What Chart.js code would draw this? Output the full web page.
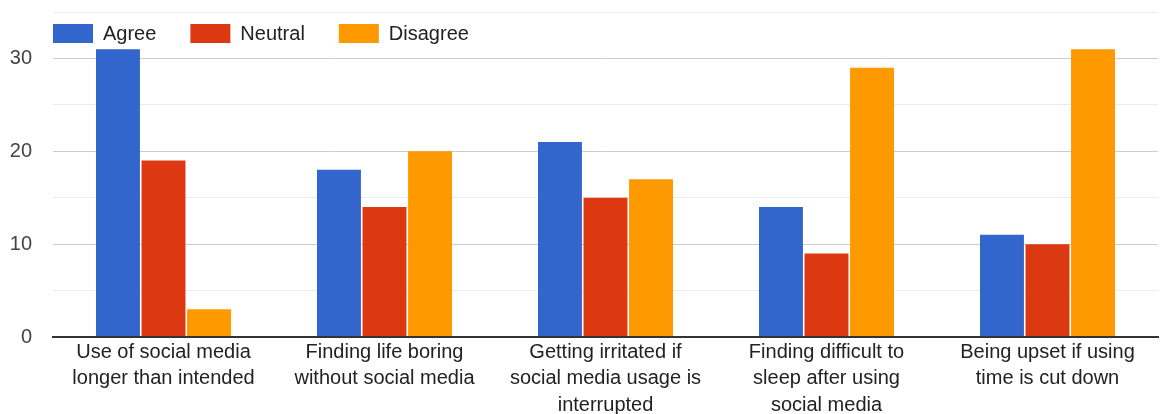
<!DOCTYPE html>
<html>
<head>
<meta charset="utf-8">
<script src="https://cdn.jsdelivr.net/npm/chart.js@4"></script>
<style>
  html, body { margin: 0; padding: 0; background: #fff; }
  #wrap { width: 1163px; height: 414px; }
</style>
</head>
<body>
<div id="wrap"><canvas id="chart"></canvas></div>
<script>
const categories = [
  ["Use of social media", "longer than intended"],
  ["Finding life boring", "without social media"],
  ["Getting irritated if", "social media usage is", "interrupted"],
  ["Finding difficult to", "sleep after using", "social media"],
  ["Being upset if using", "time is cut down"]
]
const agree = [31, 18, 21, 14, 11]
const neutral = [19, 14, 15, 9, 10]
const disagree = [3, 20, 17, 29, 31]
const labeledTicks = [0, 10, 20, 30]

const FONT = "'Liberation Sans', Arial, sans-serif"

// Legend drawn inside the plot area, top-left, like the original chart
const insideLegend = {
  id: "insideLegend",
  afterDatasetsDraw(chart) {
    const { ctx, chartArea } = chart
    ctx.save()
    ctx.font = "20px " + FONT
    ctx.textBaseline = "middle"
    let x = chartArea.left
    const y = 24
    chart.data.datasets.forEach((ds) => {
      ctx.fillStyle = ds.backgroundColor
      ctx.fillRect(x, y, 40, 19)
      ctx.fillStyle = "#222"
      ctx.fillText(ds.label, x + 50, y + 10)
      x += 50 + ctx.measureText(ds.label).width + 34
    })
    ctx.restore()
  },
}

const barOpts = { categoryPercentage: 0.618, barPercentage: 0.965 }

new Chart(document.getElementById("chart").getContext("2d"), {
  type: "bar",
  data: {
    labels: categories,
    datasets: [
      { label: "Agree", data: agree, backgroundColor: "#3366cc", ...barOpts },
      { label: "Neutral", data: neutral, backgroundColor: "#dc3912", ...barOpts },
      { label: "Disagree", data: disagree, backgroundColor: "#ff9900", ...barOpts },
    ],
  },
  options: {
    responsive: true,
    maintainAspectRatio: false,
    animation: false,
    layout: { padding: { top: 12, right: 5, left: 0, bottom: 0 } },
    plugins: {
      legend: { display: false },
      tooltip: { enabled: false },
    },
    scales: {
      x: {
        grid: { display: false, drawTicks: false },
        border: { display: true, color: "#333", width: 2 },
        ticks: {
          autoSkip: false,
          maxRotation: 0,
          padding: 2,
          color: "#222",
          font: { family: FONT, size: 20, lineHeight: 1.33 },
        },
        afterFit: (scale) => { scale.height = 77 },
      },
      y: {
        min: 0,
        max: 35,
        border: { display: false },
        grid: {
          drawTicks: false,
          color: (c) => (c.tick.value === 0 ? "#333" : c.tick.value % 10 === 0 ? "#cccccc" : "#ebebeb"),
          lineWidth: (c) => (c.tick.value === 0 ? 2 : 1),
        },
        ticks: {
          stepSize: 5,
          padding: 21,
          color: "#444",
          font: { family: FONT, size: 20 },
          callback: (v) => (labeledTicks.includes(v) ? v : ""),
        },
        afterFit: (scale) => {
          scale.width = 53
          scale.paddingTop = 0
          scale.paddingBottom = 0
        },
      },
    },
  },
  plugins: [insideLegend],
})
</script>
</body>
</html>
